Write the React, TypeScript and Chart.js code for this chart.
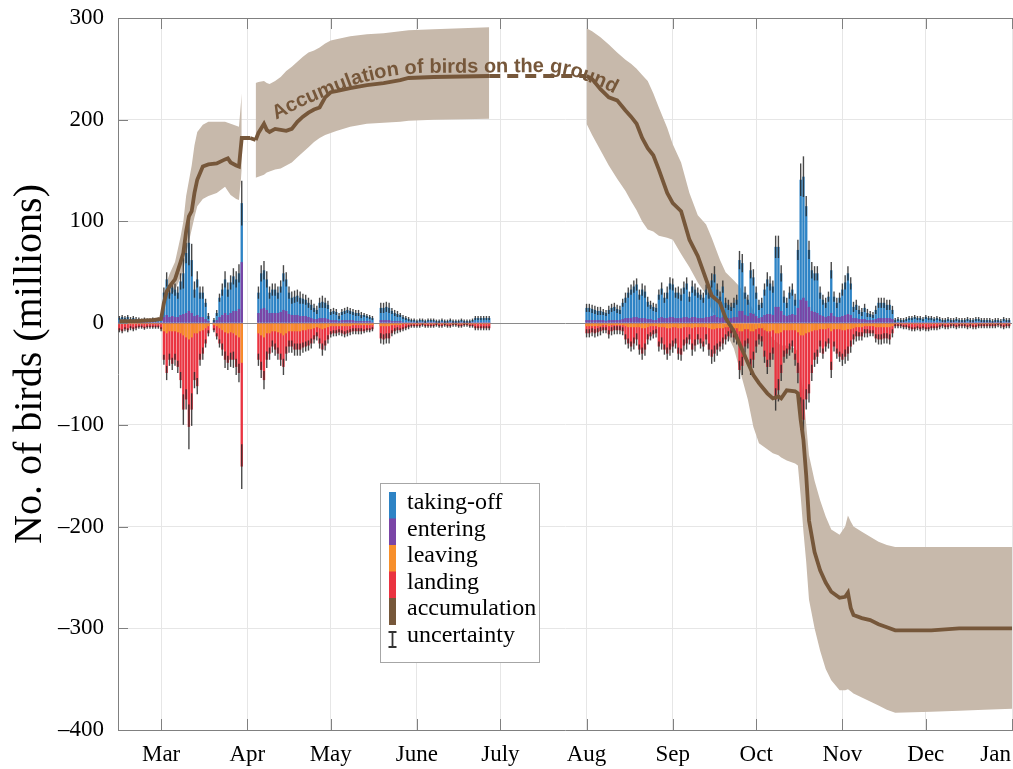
import React, { useEffect, useRef } from 'react';
import { Chart, registerables } from 'chart.js';

Chart.register(...registerables);

// ---------- axis / legend text ----------
const monthDays = [59, 90, 120, 151, 181, 212, 243, 273, 304, 334, 365];
const monthLabels = ['Mar', 'Apr', 'May', 'June', 'July', 'Aug', 'Sep', 'Oct', 'Nov', 'Dec', 'Jan'];
const yTickValues = [-400, -300, -200, -100, 0, 100, 200, 300];
const yTitle = 'No. of birds (millions)';
const legendLabels = ['taking-off', 'entering', 'leaving', 'landing', 'accumulation', 'uncertainty'];
const annotationText = 'Accumulation of birds on the ground';

// ---------- daily bars (millions), spring season starts at day-of-year 44 ----------
const springStartDay = 44;
const springTakeoff = [
  5, 6, 5, 6, 4, 5, 4, 4, 3, 4, 3, 3, 4, 3, 4, 6,
  30, 43, 30, 35, 33, 30, 41, 49, 69, 79, 62, 33, 43, 30, 30, 20, 7,
  null,
  3, 10, 25, 33, 43, 33, 40, 46, 43, 49, 118,
  null, null, null, null, null,
  30, 49, 52, 43, 30, 33, 33, 30, 36, 49, 43, 30,
  25, 26, 27, 25, 24, 23, 20, 18, 15, 13, 20, 21, 20, 18,
  11, 12, 11, 7, 11, 12, 13, 12, 11, 10, 10, 8, 8, 7, 6, 5,
  null, null,
  15, 15, 16, 15, 12, 10, 9, 8, 6, 5, 4,
  3, 3, 2, 3, 3, 2, 3, 3, 3, 2, 2, 3, 2, 2, 3, 2, 2, 2, 3, 2, 2, 2, 3,
  5, 5, 5, 5, 5, 5,
];
const springEntering = [
  1, 1, 1, 1, 1, 1, 1, 1, 1, 1, 1, 1, 1, 1, 1, 1,
  6, 8, 6, 7, 6, 6, 8, 9, 10, 12, 10, 7, 8, 6, 6, 4, 2,
  null,
  1, 3, 6, 8, 10, 8, 10, 12, 12, 14, 60,
  null, null, null, null, null,
  10, 14, 15, 13, 10, 10, 10, 10, 11, 13, 12, 9,
  8, 8, 8, 7, 7, 7, 6, 5, 4, 4, 5, 5, 5, 4,
  3, 3, 3, 2, 3, 3, 3, 3, 3, 2, 2, 2, 2, 2, 2, 1,
  null, null,
  3, 3, 3, 3, 2, 2, 2, 2, 1, 1, 1,
  1, 1, 1, 1, 1, 1, 1, 1, 1, 1, 1, 1, 1, 1, 1, 1, 1, 1, 1, 1, 1, 1, 1,
  1, 1, 1, 1, 1, 1,
];
const springLeaving = [
  -1, -1, -1, -1, -1, -1, -1, -1, -1, -1, -1, -1, -1, -1, -1, -1,
  -8, -10, -8, -8, -8, -9, -10, -12, -14, -16, -14, -10, -10, -8, -7, -5, -3,
  null,
  -2, -3, -5, -7, -9, -10, -9, -10, -12, -14, -39,
  null, null, null, null, null,
  -10, -12, -14, -10, -10, -8, -8, -9, -10, -12, -10, -8,
  -8, -8, -8, -8, -7, -7, -6, -6, -5, -4, -5, -6, -5, -4,
  -3, -3, -3, -3, -3, -3, -3, -3, -2, -2, -2, -2, -2, -2, -2, -2,
  null, null,
  -3, -3, -3, -3, -2, -2, -2, -2, -1, -1, -1,
  -1, -1, -1, -1, -1, -1, -1, -1, -1, -1, -1, -1, -1, -1, -1, -1, -1, -1, -1, -1, -1, -1, -1,
  -1, -1, -1, -1, -1, -1,
];
const springLanding = [
  -7, -8, -6, -7, -5, -6, -5, -4, -4, -5, -4, -4, -4, -4, -4, -6,
  -36, -49, -36, -40, -36, -43, -56, -85, -75, -102, -85, -56, -62, -36, -30, -20, -10,
  null,
  -7, -13, -20, -26, -36, -39, -36, -36, -43, -49, -141,
  null, null, null, null, null,
  -36, -46, -56, -36, -30, -23, -26, -30, -36, -43, -30, -23,
  -23, -26, -26, -26, -24, -23, -22, -20, -16, -13, -20, -26, -22, -16,
  -11, -10, -10, -9, -10, -11, -10, -9, -8, -8, -8, -8, -8, -7, -7, -6,
  null, null,
  -15, -16, -15, -15, -10, -8, -7, -7, -6, -5, -4,
  -3, -3, -3, -3, -2, -3, -3, -3, -3, -2, -3, -3, -2, -3, -3, -2, -2, -3, -3, -2, -2, -3, -3,
  -5, -5, -5, -5, -5, -5,
];
const springUncertainty = [
  2, 2, 2, 2, 2, 2, 2, 1.5, 1.5, 1.5, 1.5, 1.5, 1.5, 1.5, 1.5, 2,
  5, 7, 6, 6, 6, 6, 8, 15, 10, 22, 16, 8, 8, 6, 6, 4, 3,
  null,
  2, 3, 4, 6, 8, 7, 7, 8, 8, 9, 22,
  null, null, null, null, null,
  6, 8, 9, 8, 6, 6, 6, 6, 6, 8, 7, 6,
  6, 6, 6, 6, 5, 5, 5, 5, 4, 4, 5, 6, 5, 4,
  3, 3, 3, 3, 3, 3, 3, 3, 3, 3, 3, 3, 2, 2, 2, 2,
  null, null,
  5, 5, 5, 5, 3, 3, 3, 2, 2, 2, 2,
  1.5, 1.5, 1.5, 1.5, 1.5, 1.5, 1.5, 1.5, 1.5, 1.5, 1.5, 1.5, 1.5, 1.5, 1.5, 1.5, 1.5, 1.5, 1.5, 1.5, 1.5, 1.5, 1.5,
  2, 2, 2, 2, 2, 2,
];

// ---------- daily bars, autumn season starts at day-of-year 212 (Aug 1) ----------
const autumnStartDay = 212;
const autumnTakeoff = [
  15, 15, 14, 13, 12, 12, 11, 10, 13, 15,
  16, 14, 13, 20, 25, 30, 33, 36, 38, 28,
  33, 31, 21, 18, 16, 15, 28, 34, 25, 30,
  39, 38, 30, 30, 28, 35, 39, 26, 36, 33,
  30, 28, 25, 33, 30, 42, 48, 33, 26, 36,
  20, 18, 16, 20, 23, 62, 59, 30, 23, 52,
  45, 30, 18, 20, 33, 43, 39, 36, 75, 75,
  49, 26, 20, 30, 33, 23, 72, 141, 144, 115,
  72, 52, 49, 49, 30, 23, 20, 26, 52, 26,
  20, 25, 33, 40, 49, 39, 16, 18, 13, 11,
  15, 10, 9, 8, 13, 20, 20, 20, 18, 18, 13,
  3, 4, 3, 3, 4, 5, 5, 6, 5, 5, 4, 6, 5, 5, 4, 5, 4, 3, 3, 4, 3,
  3, 4, 3, 3, 3, 4, 3, 3, 4, 4, 3, 3, 3, 3, 2, 3, 3, 2, 4, 3, 3,
];
const autumnEntering = [
  3, 3, 3, 3, 3, 3, 3, 2, 3, 3,
  3, 3, 3, 4, 5, 5, 5, 6, 6, 5,
  5, 5, 4, 4, 3, 3, 5, 6, 5, 5,
  6, 6, 5, 5, 5, 6, 6, 5, 6, 6,
  5, 5, 5, 6, 6, 7, 8, 6, 5, 6,
  5, 5, 5, 6, 6, 12, 12, 8, 7, 10,
  9, 7, 5, 6, 8, 9, 9, 8, 16, 16,
  12, 8, 7, 8, 9, 8, 15, 23, 25, 22,
  16, 12, 11, 10, 8, 7, 6, 7, 10, 7,
  6, 6, 7, 8, 9, 8, 5, 5, 4, 4,
  4, 3, 3, 3, 4, 5, 5, 5, 5, 5, 4,
  1, 1, 1, 1, 1, 1, 1, 1, 1, 1, 1, 1, 1, 1, 1, 1, 1, 1, 1, 1, 1,
  1, 1, 1, 1, 1, 1, 1, 1, 1, 1, 1, 1, 1, 1, 1, 1, 1, 1, 1, 1, 1,
];
const autumnLeaving = [
  -3, -3, -3, -3, -3, -3, -2, -2, -3, -2,
  -2, -2, -2, -2, -3, -4, -4, -4, -4, -4,
  -5, -5, -4, -3, -3, -3, -4, -4, -4, -5,
  -5, -4, -4, -5, -5, -4, -4, -4, -5, -4,
  -4, -4, -4, -4, -5, -6, -6, -5, -5, -5,
  -4, -4, -4, -5, -5, -8, -8, -6, -6, -8,
  -8, -6, -5, -5, -7, -8, -8, -7, -10, -10,
  -9, -7, -7, -7, -7, -7, -9, -12, -12, -10,
  -9, -8, -7, -7, -6, -6, -6, -5, -8, -6,
  -6, -6, -7, -7, -6, -6, -5, -4, -4, -4,
  -3, -3, -3, -3, -4, -4, -4, -4, -4, -4, -3,
  -1, -1, -1, -1, -1, -1, -1, -1, -1, -1, -1, -1, -1, -1, -1, -1, -1, -1, -1, -1, -1,
  -1, -1, -1, -1, -1, -1, -1, -1, -1, -1, -1, -1, -1, -1, -1, -1, -1, -1, -1, -1, -1,
];
const autumnLanding = [
  -10, -10, -9, -10, -9, -8, -7, -7, -11, -8,
  -7, -7, -7, -8, -16, -20, -23, -20, -16, -26,
  -30, -26, -16, -13, -11, -10, -23, -20, -26, -30,
  -26, -23, -20, -30, -31, -22, -20, -16, -26, -22,
  -16, -20, -23, -16, -26, -33, -30, -26, -23, -20,
  -16, -13, -10, -14, -16, -46, -42, -23, -20, -43,
  -36, -23, -16, -18, -33, -43, -36, -30, -75, -66,
  -49, -33, -30, -26, -23, -36, -49, -89, -95, -75,
  -69, -49, -36, -33, -23, -30, -23, -20, -46, -23,
  -30, -33, -36, -33, -30, -23, -16, -13, -13, -13,
  -10, -10, -10, -10, -15, -16, -16, -15, -15, -16, -10,
  -3, -3, -3, -4, -4, -5, -6, -6, -5, -6, -5, -6, -6, -5, -5, -5, -4, -3, -4, -4, -3,
  -3, -4, -3, -3, -3, -4, -3, -4, -4, -3, -3, -3, -3, -3, -3, -3, -2, -3, -4, -3, -3,
];
const autumnUncertainty = [
  4, 4, 4, 4, 4, 4, 3, 3, 4, 4,
  4, 4, 4, 4, 5, 5, 5, 6, 6, 5,
  6, 6, 5, 4, 4, 4, 5, 6, 5, 6,
  6, 6, 5, 6, 6, 6, 6, 5, 6, 6,
  5, 5, 5, 5, 6, 7, 8, 6, 5, 6,
  5, 5, 4, 5, 5, 9, 9, 6, 5, 8,
  8, 6, 5, 5, 6, 7, 7, 6, 11, 11,
  8, 6, 5, 6, 6, 6, 10, 16, 20, 10,
  9, 8, 7, 7, 6, 5, 5, 5, 8, 5,
  5, 5, 6, 7, 7, 6, 5, 5, 4, 4,
  4, 4, 3, 3, 4, 5, 5, 5, 5, 5, 4,
  2, 2, 2, 2, 2, 2, 2, 2, 2, 2, 2, 2, 2, 2, 2, 2, 2, 2, 2, 2, 2,
  2, 2, 2, 2, 2, 2, 2, 2, 2, 2, 2, 2, 2, 2, 2, 2, 2, 2, 2, 2, 2,
];

// ---------- accumulation and its uncertainty band ----------
const accumSpringDays = [44, 50, 56, 59, 60, 61, 62, 64, 66, 67, 68, 69, 70, 71, 72, 74, 76, 79, 82, 83, 84, 86, 87, 88, 91, 92, 93, 94, 96, 97, 98, 100, 102, 104, 106, 108, 110, 112, 114, 116, 118, 120, 122, 127, 133, 139, 145, 148, 157, 177];
const accumSpring = [2, 2, 3, 4, 20, 31, 36, 43, 60, 69, 90, 105, 110, 128, 141, 154, 156, 157, 161, 162, 158, 155, 154, 182, 182, null, 180, 187, 196, 190, 188, 191, 190, 189, 191, 198, 203, 207, 210, 212, 222, 227, 228, 231, 234, 236, 239, 241, 242, 243];
const bandSpringUpper = [4, 4, 5, 6, 26, 40, 48, 60, 85, 100, 125, 140, 155, 175, 188, 195, 198, 198, 198, 197, 196, 194, 193, 226, null, null, 236, 237, 238, 236, 235, 238, 242, 248, 252, 257, 262, 266, 268, 271, 275, 278, 279, 282, 284, 285, 287, 288, 289, 291];
const bandSpringLower = [0, 0, 1, 2, 14, 22, 26, 32, 45, 52, 68, 80, 92, 104, 115, 122, 125, 128, 134, 130, 126, 122, 121, 150, null, null, 143, 144, 146, 148, 149, 151, 152, 155, 158, 163, 168, 173, 178, 182, 185, 187, 189, 193, 196, 197, 198, 199, 200, 201];

const accumAutumnDays = [212, 214, 217, 220, 223, 226, 228, 230, 232, 234, 236, 238, 241, 243, 246, 249, 252, 255, 257, 260, 262, 265, 267, 270, 272, 274, 277, 279, 281, 282, 284, 287, 288, 289, 290, 291, 292, 294, 296, 298, 300, 303, 305, 306, 307, 308, 311, 314, 317, 320, 323, 336, 346, 355, 365];
const accumAutumn = [243, 240, 230, 222, 219, 209, 203, 196, 182, 172, 165, 151, 128, 118, 110, 82, 66, 43, 27, 20, 5, -8, -20, -39, -51, -59, -69, -74, -72, -74, -66, -67, -69, -95, -115, -150, -194, -225, -243, -255, -264, -270, -269, -265, -280, -287, -290, -292, -296, -299, -302, -302, -300, -300, -300];
const bandAutumnUpper = [290, 287, 281, 274, 266, 259, 255, 250, 244, 238, 226, 212, 192, 176, 158, 128, 106, 97, 84, 62, 50, 42, 36, 24, 12, 2, -8, -15, -20, -22, -22, -25, -28, -50, -70, -100, -130, -155, -174, -190, -203, -208, -200, -189, -195, -200, -205, -210, -215, -218, -220, -220, -220, -220, -220];
const bandAutumnLower = [196, 185, 170, 155, 142, 130, 120, 111, 100, 92, 90, 86, 84, 82, 68, 55, 40, 28, 12, 3, -8, -25, -45, -75, -102, -118, -124, -128, -130, -132, -135, -138, -140, -170, -205, -235, -272, -300, -322, -340, -351, -361, -361, -360, -362, -364, -368, -372, -376, -380, -383, -382, -381, -380, -379];

// no observations in summer: dashed link
const gapDays = [91, 93, 94, 177, 212];
const gapValues = [182, 180, null, 243, 243];

// ---------- styling ----------
const COLORS = {
  takeoff: '#2d83c5',
  entering: '#7a45a6',
  leaving: '#f78f2b',
  landing: '#ea3340',
  accumulation: '#76573a',
  band: '#c7b9ab',
  err: 'rgba(40,40,40,0.85)',
  axis: '#808080',
  grid: '#e6e6e6',
};
const SERIF = '"Liberation Serif", "Times New Roman", Times, serif';

// path of the curved label, in (day, millions)
const annotationPath: [number, number][] = [
  [100.3, 200], [108.9, 212], [119.7, 225], [130.5, 236], [141.3, 243],
  [152.1, 246], [198.8, 247], [206, 244], [216.8, 233], [227.6, 218],
];

function seasonPoints(start: number, vals: (number | null)[]) {
  const out: { x: number; y: number }[] = [];
  vals.forEach((v, i) => { if (v !== null) out.push({ x: start + i, y: v }); });
  return out;
}
function errorPoints(start: number, tips: (number | null)[], errs: (number | null)[]) {
  const out: { x: number; y: [number, number] }[] = [];
  tips.forEach((v, i) => {
    const e = errs[i];
    if (v !== null && e !== null) out.push({ x: start + i, y: [v - e, v + e] });
  });
  return out;
}
function linePoints(days: number[], vals: (number | null)[]) {
  return days.map((d, i) => ({ x: d, y: vals[i] }));
}

function drawTextOnPath(ctx: CanvasRenderingContext2D, text: string, pts: [number, number][]) {
  const cum = [0];
  for (let i = 1; i < pts.length; i++) {
    cum.push(cum[i - 1] + Math.hypot(pts[i][0] - pts[i - 1][0], pts[i][1] - pts[i - 1][1]));
  }
  const total = cum[cum.length - 1];
  const at = (s: number) => {
    s = Math.max(0, Math.min(total, s));
    let i = 1;
    while (i < pts.length - 1 && cum[i] < s) i++;
    const t = (s - cum[i - 1]) / (cum[i] - cum[i - 1] || 1);
    return [pts[i - 1][0] + t * (pts[i][0] - pts[i - 1][0]), pts[i - 1][1] + t * (pts[i][1] - pts[i - 1][1])];
  };
  let s = 0;
  for (const ch of text) {
    const w = ctx.measureText(ch).width;
    const mid = s + w / 2;
    const [x, y] = at(mid);
    const a = at(mid - 10);
    const b = at(mid + 10);
    const ang = Math.atan2(b[1] - a[1], b[0] - a[0]);
    ctx.save();
    ctx.translate(x, y);
    ctx.rotate(ang);
    ctx.fillText(ch, 0, 0);
    ctx.restore();
    s += w;
  }
}

const decorPlugin = {
  id: 'decor',
  afterDatasetsDraw(chart: any) {
    const { ctx, scales: { x, y } } = chart;
    ctx.save();
    ctx.font = 'bold 20px "Liberation Sans", Arial, sans-serif';
    ctx.fillStyle = COLORS.accumulation;
    ctx.textAlign = 'center';
    ctx.textBaseline = 'alphabetic';
    const pts: [number, number][] = annotationPath.map(([d, v]) => [x.getPixelForValue(d), y.getPixelForValue(v)]);
    drawTextOnPath(ctx, annotationText, pts);
    ctx.restore();
  },
  afterDraw(chart: any) {
    const { ctx, chartArea: ca, scales: { x, y } } = chart;
    ctx.save();
    // top frame
    ctx.strokeStyle = COLORS.axis;
    ctx.lineWidth = 1;
    ctx.beginPath();
    ctx.moveTo(ca.left, Math.round(ca.top) + 0.5);
    ctx.lineTo(ca.right, Math.round(ca.top) + 0.5);
    ctx.stroke();
    // inward ticks
    ctx.beginPath();
    for (const d of monthDays) {
      const px = Math.round(x.getPixelForValue(d)) + 0.5;
      ctx.moveTo(px, ca.bottom);
      ctx.lineTo(px, ca.bottom - 11);
      ctx.moveTo(px, ca.top);
      ctx.lineTo(px, ca.top + 11);
    }
    for (const v of yTickValues) {
      const py = Math.round(y.getPixelForValue(v)) + 0.5;
      ctx.moveTo(ca.left, py);
      ctx.lineTo(ca.left + 10, py);
    }
    ctx.stroke();

    // month labels
    ctx.font = `23px ${SERIF}`;
    ctx.fillStyle = '#000';
    ctx.textAlign = 'left';
    ctx.textBaseline = 'alphabetic';
    monthDays.forEach((d, i) => {
      const label = monthLabels[i];
      const w = ctx.measureText(label).width;
      let left = x.getPixelForValue(d) - w / 2;
      if (left + w > chart.width - 2) left = chart.width - 2 - w;
      ctx.fillText(label, left, ca.bottom + 31);
    });

    // y title
    ctx.save();
    ctx.translate(30, 364);
    ctx.rotate(-Math.PI / 2);
    ctx.font = `40px ${SERIF}`;
    ctx.textAlign = 'center';
    ctx.textBaseline = 'middle';
    ctx.fillText(yTitle, 0, 0);
    ctx.restore();

    // legend
    const bx = 380, by = 483, bw = 159, bh = 179;
    ctx.fillStyle = '#fff';
    ctx.fillRect(bx, by, bw, bh);
    ctx.strokeStyle = '#a6a6a6';
    ctx.lineWidth = 1;
    ctx.strokeRect(bx + 0.5, by + 0.5, bw, bh);
    const sw = [COLORS.takeoff, COLORS.entering, COLORS.leaving, COLORS.landing, COLORS.accumulation];
    const rowH = 26.5;
    sw.forEach((c, i) => {
      ctx.fillStyle = c;
      ctx.fillRect(389, 492 + i * rowH, 7, rowH + 0.5);
    });
    ctx.strokeStyle = '#333';
    ctx.lineWidth = 1.8;
    ctx.beginPath();
    ctx.moveTo(392.5, 632); ctx.lineTo(392.5, 647);
    ctx.moveTo(388.5, 632); ctx.lineTo(396.5, 632);
    ctx.moveTo(388.5, 647); ctx.lineTo(396.5, 647);
    ctx.stroke();
    ctx.font = `24px ${SERIF}`;
    ctx.fillStyle = '#000';
    ctx.textAlign = 'left';
    legendLabels.forEach((t, i) => ctx.fillText(t, 407, 509 + i * rowH));
    ctx.restore();
  },
};

export default function App() {
  const ref = useRef<HTMLCanvasElement | null>(null);
  useEffect(() => {
    document.body.style.margin = '0';
    const canvas = ref.current;
    if (!canvas) return;

    const takeoffPts = [...seasonPoints(springStartDay, springTakeoff), ...seasonPoints(autumnStartDay, autumnTakeoff)];
    const enteringPts = [...seasonPoints(springStartDay, springEntering), ...seasonPoints(autumnStartDay, autumnEntering)];
    const leavingPts = [...seasonPoints(springStartDay, springLeaving), ...seasonPoints(autumnStartDay, autumnLeaving)];
    const landingPts = [...seasonPoints(springStartDay, springLanding), ...seasonPoints(autumnStartDay, autumnLanding)];
    const errPos = [...errorPoints(springStartDay, springTakeoff, springUncertainty), ...errorPoints(autumnStartDay, autumnTakeoff, autumnUncertainty)];
    const errNeg = [...errorPoints(springStartDay, springLanding, springUncertainty), ...errorPoints(autumnStartDay, autumnLanding, autumnUncertainty)];

    const bandDs = (data: any, fill: any) => ({
      type: 'line', data, fill, backgroundColor: COLORS.band, borderWidth: 0, pointRadius: 0,
      spanGaps: false, order: 10, tension: 0,
    });
    const barDs = (label: string, data: any, color: string, order: number, pct = 0.85) => ({
      type: 'bar', label, data, backgroundColor: color, borderWidth: 0, grouped: false,
      barPercentage: pct, categoryPercentage: 1, order,
    });
    const lineDs = (data: any, dash: number[]) => ({
      type: 'line', data, borderColor: COLORS.accumulation, borderWidth: 3.8, pointRadius: 0,
      fill: false, spanGaps: false, tension: 0, order: 1, borderDash: dash, borderCapStyle: 'butt',
    });

    const chart = new Chart(canvas, {
      type: 'bar',
      data: {
        datasets: [
          bandDs(linePoints(accumSpringDays, bandSpringUpper), '+1'),
          bandDs(linePoints(accumSpringDays, bandSpringLower), false),
          bandDs(linePoints(accumAutumnDays, bandAutumnUpper), '+1'),
          bandDs(linePoints(accumAutumnDays, bandAutumnLower), false),
          barDs('taking-off', takeoffPts, COLORS.takeoff, 5),
          barDs('landing', landingPts, COLORS.landing, 5),
          barDs('entering', enteringPts, COLORS.entering, 4),
          barDs('leaving', leavingPts, COLORS.leaving, 4),
          barDs('uncertainty+', errPos, COLORS.err, 3, 0.5),
          barDs('uncertainty-', errNeg, COLORS.err, 3, 0.5),
          lineDs(linePoints(accumSpringDays, accumSpring), []),
          lineDs(linePoints(accumAutumnDays, accumAutumn), []),
          lineDs(linePoints(gapDays, gapValues), [11, 7]),
        ] as any,
      },
      options: {
        responsive: false,
        devicePixelRatio: 1,
        animation: false,
        layout: { padding: { top: 18, right: 1, left: 0, bottom: 0 } },
        plugins: {
          legend: { display: false },
          tooltip: { enabled: false },
          filler: { propagate: false },
        },
        scales: {
          x: {
            type: 'linear',
            min: 43.5,
            max: 365,
            offset: false,
            afterBuildTicks: (axis: any) => { axis.ticks = monthDays.map((v) => ({ value: v })); },
            afterFit: (s: any) => { s.height = 39; s.paddingLeft = 0; s.paddingRight = 0; },
            ticks: { display: false },
            grid: { color: COLORS.grid, drawTicks: false, offset: false },
            border: { color: COLORS.axis, width: 1 },
          },
          y: {
            type: 'linear',
            min: -400,
            max: 300,
            afterFit: (s: any) => { s.width = 118; s.paddingTop = 0; s.paddingBottom = 0; },
            afterBuildTicks: (axis: any) => { axis.ticks = yTickValues.map((v) => ({ value: v })); },
            ticks: {
              padding: 14,
              color: '#000',
              font: { family: SERIF, size: 23 },
              callback: (v: any) => (Number(v) < 0 ? '\u2013' + Math.abs(Number(v)) : String(v)),
            },
            grid: {
              drawTicks: false,
              color: (c: any) => (c.tick && c.tick.value === 0 ? '#8a8a8a' : COLORS.grid),
            },
            border: { color: COLORS.axis, width: 1 },
          },
        },
      } as any,
      plugins: [decorPlugin],
    });
    return () => chart.destroy();
  }, []);

  return (
    <div style={{ width: 1013, height: 769 }}>
      <canvas ref={ref} width={1013} height={769} style={{ display: 'block' }} />
    </div>
  );
}
